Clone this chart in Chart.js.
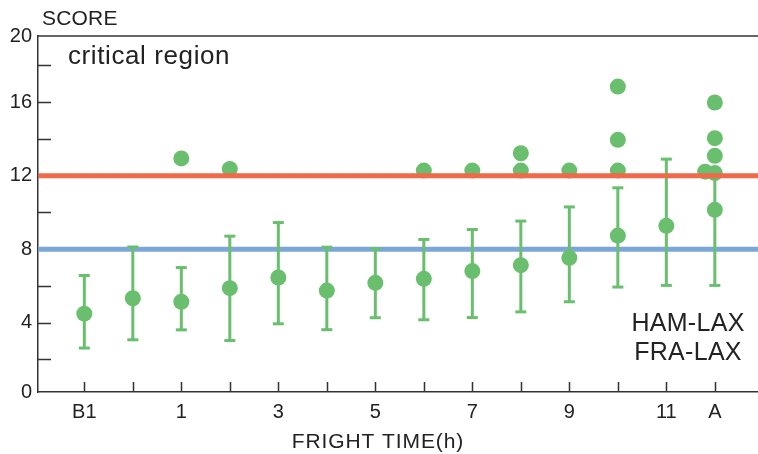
<!DOCTYPE html>
<html><head><meta charset="utf-8">
<script src="https://cdn.jsdelivr.net/npm/chart.js@4/dist/chart.umd.min.js"></script>
<style>html,body{margin:0;padding:0;background:#fff}canvas{display:block}</style>
</head><body>
<canvas id="c" width="758" height="454"></canvas>
<script>
// ---- data ----
const categories = ['B1','','1','','3','','5','','7','','9','','11','A'];
const meanScores  = [4.49, 5.33, 5.14, 5.88, 6.46, 5.75, 6.17, 6.39, 6.81, 7.13, 7.53, 8.74, 9.27, 10.14];
const upperScores = [6.57, 8.12, 7.00, 8.71, 9.45, 8.11, 8.02, 8.53, 9.07, 9.53, 10.30, 11.34, 12.90, 12.20];
const lowerScores = [2.62, 3.07, 3.61, 3.03, 3.94, 3.62, 4.27, 4.16, 4.28, 4.59, 5.14, 5.94, 6.03, 6.03];
const outlierCategory = [2, 3, 7, 8, 9, 9, 10, 11, 11, 11, 13, 13, 13, 13, 12.8];
const outlierScores   = [12.94, 12.37, 12.28, 12.28, 12.28, 13.22, 12.28, 16.85, 13.95, 12.28, 15.98, 14.04, 13.08, 12.14, 12.22];
const criticalLevel = 12;
const cautionLevel = 8;
const yTickValues = [0.23, 2, 4, 6, 8, 10, 12, 14, 16, 18, 19.60];
const yTickLabels = ['0', '', '4', '', '8', '', '12', '', '16', '', '20'];
const xAxisMin = -0.955, xAxisMax = 13.89;
const yAxisTitle = 'SCORE';
const xAxisTitle = 'FRIGHT TIME(h)';
const regionLabel = 'critical region';
const routeLabels = ['HAM-LAX', 'FRA-LAX'];

// ---- style ----
const GREEN = '#69bf6d', RED = '#f0694a', BLUE = '#7ba7d8', AXIS = '#333333', TEXT = '#222222';
const FAMILY = '"Liberation Sans", Arial, sans-serif';
Chart.defaults.font.family = FAMILY;

const errorLine = [];
categories.forEach((_, i) => {
  errorLine.push({x: i, y: lowerScores[i]}, {x: i, y: upperScores[i]}, {x: i, y: null});
});
const caps = [];
categories.forEach((_, i) => { caps.push({x: i, y: lowerScores[i]}, {x: i, y: upperScores[i]}); });

const axisDecor = {
  id: 'axisDecor',
  beforeDatasetsDraw(chart) {
    const {ctx, chartArea: a, scales: {x, y}} = chart;
    ctx.save();
    ctx.strokeStyle = AXIS; ctx.lineWidth = 1.5;
    ctx.beginPath();
    yTickValues.slice(1, -1).forEach(v => {
      const py = Math.round(y.getPixelForValue(v)) + 0.5;
      ctx.moveTo(a.left, py); ctx.lineTo(a.left + 13, py);
    });
    categories.forEach((_, i) => {
      const px = Math.round(x.getPixelForValue(i)) + 0.5;
      ctx.moveTo(px, a.bottom); ctx.lineTo(px, a.bottom - 10);
    });
    ctx.moveTo(a.left, a.top); ctx.lineTo(a.right, a.top);
    ctx.stroke();
    ctx.restore();
  },
  afterDraw(chart) {
    const {ctx} = chart;
    ctx.save();
    ctx.fillStyle = TEXT;
    ctx.textBaseline = 'alphabetic';
    ctx.textAlign = 'left';
    ctx.font = '21px ' + FAMILY;
    ctx.letterSpacing = '0.2px';
    ctx.fillText(yAxisTitle, 42, 25);
    ctx.font = '26px ' + FAMILY;
    ctx.letterSpacing = '0.6px';
    ctx.fillText(regionLabel, 68, 64);
    ctx.textAlign = 'center';
    ctx.font = '25px ' + FAMILY;
    ctx.letterSpacing = '0.3px';
    ctx.fillText(routeLabels[0], 688, 331);
    ctx.fillText(routeLabels[1], 688, 360);
    ctx.font = '21px ' + FAMILY;
    ctx.letterSpacing = '0.9px';
    ctx.fillText(xAxisTitle, 378, 448);
    ctx.restore();
  }
};

new Chart(document.getElementById('c'), {
  type: 'scatter',
  data: {
    datasets: [
      {type: 'line', data: [{x: xAxisMin, y: criticalLevel}, {x: xAxisMax, y: criticalLevel}],
       borderColor: RED, borderWidth: 5, pointRadius: 0, fill: false},
      {data: outlierCategory.map((c, i) => ({x: c, y: outlierScores[i]})),
       backgroundColor: GREEN, borderWidth: 0, pointRadius: 8},
      {data: meanScores.map((v, i) => ({x: i, y: v})),
       backgroundColor: GREEN, borderWidth: 0, pointRadius: 8},
      {data: caps, pointStyle: 'line', pointRadius: 5.5, borderColor: GREEN, borderWidth: 3},
      {type: 'line', data: errorLine, borderColor: GREEN, borderWidth: 3, pointRadius: 0, spanGaps: false, fill: false},
      {type: 'line', data: [{x: xAxisMin, y: cautionLevel}, {x: xAxisMax, y: cautionLevel}],
       borderColor: BLUE, borderWidth: 5, pointRadius: 0, fill: false}
    ]
  },
  options: {
    responsive: false,
    animation: false,
    layout: {autoPadding: false, padding: {top: 36, left: 0, right: 0, bottom: 0}},
    plugins: {legend: {display: false}, tooltip: {enabled: false}},
    scales: {
      x: {
        type: 'linear', min: xAxisMin, max: xAxisMax,
        afterBuildTicks: s => { s.ticks = categories.map((_, i) => ({value: i})); },
        afterFit: s => { s.height = 62; s.paddingLeft = 0; s.paddingRight = 0; },
        ticks: {callback: (v, i) => categories[i], autoSkip: false, maxRotation: 0,
                color: TEXT, font: {size: 20}, padding: 8},
        grid: {display: false, drawTicks: false},
        border: {display: true, color: AXIS, width: 1.5}
      },
      y: {
        type: 'linear', min: yTickValues[0], max: yTickValues[yTickValues.length - 1],
        afterBuildTicks: s => { s.ticks = yTickValues.map(v => ({value: v})); },
        afterFit: s => { s.width = 38; s.paddingTop = 0; s.paddingBottom = 0; },
        ticks: {callback: (v, i) => yTickLabels[i], autoSkip: false, color: TEXT, font: {size: 20}, padding: 6},
        grid: {display: false, drawTicks: false},
        border: {display: true, color: AXIS, width: 1.5}
      }
    }
  },
  plugins: [axisDecor]
});
</script>
</body></html>
